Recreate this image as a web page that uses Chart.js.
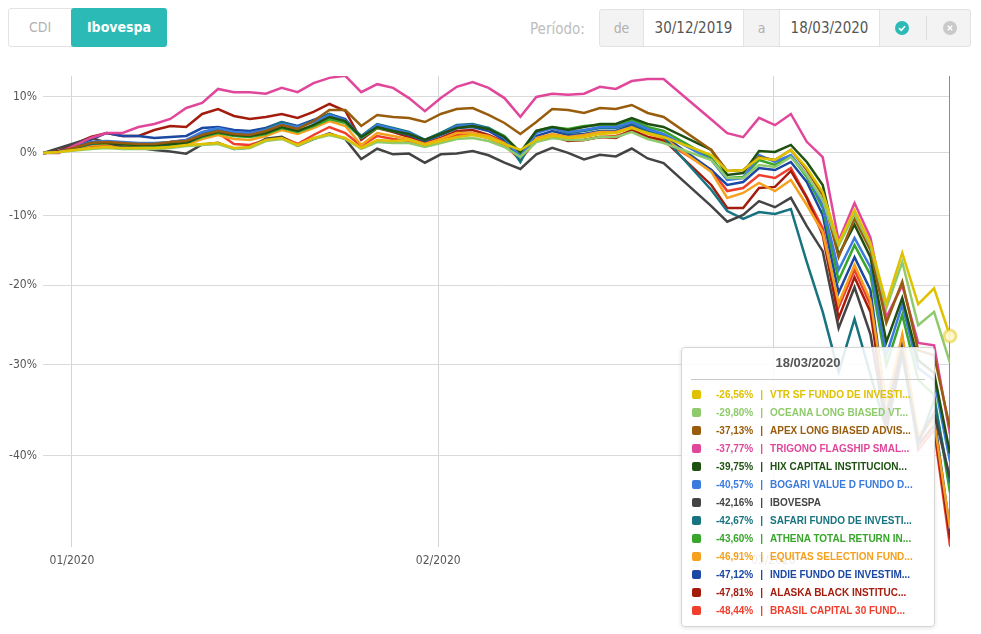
<!DOCTYPE html>
<html lang="pt-BR">
<head>
<meta charset="utf-8">
<title>Comparativo de fundos x Ibovespa</title>
<script src="https://cdn.jsdelivr.net/npm/chart.js@4.4.1/dist/chart.umd.min.js"></script>
<style>
  body { margin: 0; background: #fff; font-family: "DejaVu Sans Condensed", "DejaVu Sans", sans-serif; }
  #pagina { position: relative; width: 981px; height: 634px; overflow: hidden; }

  /* botoes CDI / Ibovespa */
  .grupo-botoes { position: absolute; left: 8px; top: 8px; width: 159px; height: 39px; border: 1px solid #e3e3e3; border-radius: 3px; box-sizing: border-box; }
  .btn-cdi { position: absolute; left: 0; top: 0; width: 62px; height: 37px; line-height: 37px; text-align: center; color: #b3b3b3; font-size: 14px; }
  .btn-ibov { position: absolute; left: 62px; top: -1px; width: 96px; height: 39px; line-height: 39px; text-align: center; background: #2bbab6; color: #fff; font-weight: bold; font-size: 14px; border-radius: 3px; }

  /* periodo */
  .rotulo-periodo { position: absolute; left: 530px; top: 20px; font-size: 15px; color: #bdbdbd; }
  .grupo-datas { position: absolute; left: 599px; top: 9px; width: 372px; height: 38px; background: #f3f3f3; border: 1px solid #e2e2e2; border-radius: 3px; box-sizing: border-box; }
  .grupo-datas .txt { position: absolute; top: 0; height: 36px; line-height: 36px; text-align: center; color: #b0b0b0; font-size: 14px; }
  .grupo-datas .campo { position: absolute; top: 0; height: 36px; line-height: 36px; text-align: center; background: #fff; border-left: 1px solid #e4e4e4; border-right: 1px solid #e4e4e4; color: #555; font-size: 15px; box-sizing: border-box; }
  .grupo-datas .icone { position: absolute; top: 11px; width: 14px; height: 14px; }
  .grupo-datas .sep { position: absolute; left: 326px; top: 6px; width: 1px; height: 24px; background: #dcdcdc; }

  #areaGrafico { position: absolute; left: 0; top: 60px; width: 981px; height: 520px; }

  /* caixa de detalhes do ultimo dia */
  #tooltip { position: absolute; left: 681px; top: 347px; width: 254px; height: 280px; box-sizing: border-box; background: rgba(255,255,255,0.88); border: 1px solid #d6d6d6; border-radius: 4px; box-shadow: 0 1px 4px rgba(0,0,0,0.12); font-family: "Liberation Sans", Arial, sans-serif; }
  #tooltip .titulo { margin-top: 7px; height: 16px; line-height: 16px; text-align: center; color: #555; font-size: 13px; font-weight: bold; }
  #tooltip .linha-sep { margin: 8px 9px 6px 9px; height: 1px; background: #c9c9c9; }
  #tooltip .linha { height: 18px; line-height: 18px; padding-left: 10px; font-size: 10px; font-weight: bold; white-space: nowrap; }
  #tooltip .quad { display: inline-block; width: 9px; height: 9px; border-radius: 2px; margin-right: 15px; vertical-align: -1px; }
  #tooltip .barra { margin: 0 7px; }
</style>
</head>
<body>
<div id="pagina">
  <div class="grupo-botoes">
    <div class="btn-cdi">CDI</div>
    <div class="btn-ibov">Ibovespa</div>
  </div>

  <div class="rotulo-periodo">Período:</div>
  <div class="grupo-datas">
    <div class="txt" style="left:0;width:43px">de</div>
    <div class="campo" style="left:43px;width:101px">30/12/2019</div>
    <div class="txt" style="left:144px;width:35px">a</div>
    <div class="campo" style="left:179px;width:101px">18/03/2020</div>
    <svg class="icone" style="left:295px" viewBox="0 0 14 14"><circle cx="7" cy="7" r="7" fill="#2bbab6"/><path d="M4 7.2 L6.2 9.3 L10 5.2" stroke="#fff" stroke-width="1.6" fill="none"/></svg>
    <div class="sep"></div>
    <svg class="icone" style="left:343px" viewBox="0 0 14 14"><circle cx="7" cy="7" r="7" fill="#c9c9c9"/><path d="M4.8 4.8 L9.2 9.2 M9.2 4.8 L4.8 9.2" stroke="#fff" stroke-width="1.5"/></svg>
  </div>

  <div id="areaGrafico"><canvas id="graficoFundos"></canvas></div>
  <div id="tooltip"></div>
</div>

<script>
// Datas (dias uteis + feriados que aparecem no eixo)
const datas = [
  '30/12/2019','31/12/2019','01/01/2020','02/01/2020','03/01/2020','06/01/2020','07/01/2020','08/01/2020','09/01/2020','10/01/2020',
  '13/01/2020','14/01/2020','15/01/2020','16/01/2020','17/01/2020','20/01/2020','21/01/2020','22/01/2020','23/01/2020','24/01/2020',
  '27/01/2020','28/01/2020','29/01/2020','30/01/2020','31/01/2020','03/02/2020','04/02/2020','05/02/2020','06/02/2020','07/02/2020',
  '10/02/2020','11/02/2020','12/02/2020','13/02/2020','14/02/2020','17/02/2020','18/02/2020','19/02/2020','20/02/2020','21/02/2020',
  '24/02/2020','25/02/2020','26/02/2020','27/02/2020','28/02/2020','02/03/2020','03/03/2020','04/03/2020','05/03/2020','06/03/2020',
  '09/03/2020','10/03/2020','11/03/2020','12/03/2020','13/03/2020','16/03/2020','17/03/2020','18/03/2020'
];

// Marcas de mes no eixo x (posicao em indices de dia) e rotulos
const ticksMes = [1.82, 24.84, 45.9];
const rotulosMes = ['01/2020', '02/2020', '03/2020'];
// Linhas de grade do eixo y (rentabilidade em %)
const ticksY = [10, 0, -10, -20, -30, -40];

const nomes = [
  'VTR SF FUNDO DE INVESTI...', 'OCEANA LONG BIASED VT...', 'APEX LONG BIASED ADVIS...', 'TRIGONO FLAGSHIP SMAL...',
  'HIX CAPITAL INSTITUCION...', 'BOGARI VALUE D FUNDO D...', 'IBOVESPA', 'SAFARI FUNDO DE INVESTI...',
  'ATHENA TOTAL RETURN IN...', 'EQUITAS SELECTION FUND...', 'INDIE FUNDO DE INVESTIM...', 'ALASKA BLACK INSTITUC...',
  'BRASIL CAPITAL 30 FUND...'
];
const cores = [
  '#e0c100', '#8fca6c', '#985c0c', '#e0479b',
  '#1e5111', '#3b7bdd', '#444444', '#17737f',
  '#37a62b', '#f5a11e', '#1b48a2', '#a41c0e',
  '#ef3e2c'
];

// Rentabilidade acumulada (%) por dia; null = sem cota no dia
const vtr = [0, 0.17, null, 0.85, 1.02, 0.85, 0.85, 0.85, 1.02, 1.36,
  1.53, 1.70, 0.85, 1.02, 2.22, 2.56, 1.36, 2.56, 3.25, 2.56,
  0.85, 2.22, 2.04, 2.22, 1.36, 2.04, 2.73, 3.08, 2.56, 1.53,
  0.51, 2.22, 2.91, 2.56, 2.73, 3.25, 3.43, 4.30, 3.43, 2.73,
  null, null, -0.34, -2.99, -2.83, -0.84, -1.17, 0.51, -2.50, -6.37,
  -14.1, -9.17, -14.1, -22.4, -15.5, -22.5, -20.4, -26.56];
const oceana = [0, 0.17, null, 0.68, 0.85, 0.68, 0.68, 0.68, 0.85, 1.19,
  1.36, 1.53, 0.68, 0.85, 2.04, 2.39, 1.19, 2.39, 3.08, 2.39,
  0.68, 1.87, 1.70, 1.70, 1.02, 1.70, 2.39, 2.56, 2.04, 1.02,
  -0.67, 1.87, 2.56, 2.22, 2.22, 2.73, 2.73, 3.60, 2.39, 1.70,
  null, null, -1.17, -4.13, -4.13, -2.00, -2.33, -0.67, -3.64, -7.62,
  -14.5, -9.78, -14.5, -23.0, -16.8, -25.2, -23.5, -29.80];
const apex = [0, 0.17, null, 1.70, 1.87, 1.70, 1.53, 1.53, 1.87, 2.04,
  3.08, 3.78, 3.25, 3.08, 3.78, 4.84, 4.13, 5.54, 7.51, 7.51,
  4.66, 6.62, 6.26, 6.08, 5.36, 6.80, 7.69, 7.88, 6.62, 5.19,
  3.25, 5.36, 7.69, 7.51, 6.98, 7.88, 7.69, 8.43, 6.98, 6.26,
  null, null, 0.51, -2.99, -2.83, -0.67, -1.17, 0.51, -2.83, -6.84,
  -16.1, -10.5, -15.1, -24.9, -19.5, -28.3, -28.9, -37.13];
const trigono = [0, 0, null, 2.56, 3.43, 3.43, 4.48, 5.0, 5.9, 7.88,
  8.8, 11.4, 10.8, 10.8, 10.5, 11.6, 10.8, 12.5, 13.5, 13.9,
  10.8, 12.3, 11.6, 9.7, 7.3, 9.7, 11.8, 12.7, 11.6, 9.7,
  6.3, 9.9, 10.5, 10.3, 10.5, 11.8, 11.4, 12.9, 13.3, 13.3,
  null, null, 5.8, 3.4, 2.7, 6.1, 4.8, 6.8, 1.9, -0.7,
  -13.8, -8.1, -13.3, -24.2, -20.0, -27.4, -27.7, -37.77];
const hix = [0, 0.17, null, 1.70, 1.70, 1.53, 1.36, 1.36, 1.53, 1.70,
  2.91, 3.60, 3.08, 2.91, 3.43, 4.48, 3.78, 4.84, 6.26, 5.54,
  2.73, 4.48, 3.78, 3.25, 2.22, 3.25, 4.30, 4.66, 4.13, 2.73,
  0.17, 3.78, 4.48, 3.95, 4.48, 5.01, 5.01, 6.08, 5.01, 4.48,
  null, null, 0.51, -3.64, -3.32, 0.34, 0.17, 1.36, -1.51, -5.25,
  -15.8, -11.4, -16.1, -27.3, -21.7, -29.5, -31.0, -39.75];
const bogari = [0, 0.17, null, 1.87, 2.04, 1.87, 1.70, 1.70, 1.87, 2.22,
  3.60, 4.30, 3.60, 3.43, 3.95, 5.01, 4.48, 5.36, 6.62, 5.72,
  2.73, 4.84, 4.13, 3.43, 2.22, 3.25, 4.66, 4.84, 4.13, 2.56,
  -0.67, 3.43, 4.30, 3.60, 3.95, 4.48, 4.48, 5.36, 4.13, 3.25,
  null, null, -1.17, -4.45, -4.13, -0.34, -1.51, -0.34, -3.64, -8.40,
  -17.9, -13.35, -17.5, -28.9, -22.6, -30.4, -31.8, -40.57];
const ibovespa = [0, null, null, 2.53, 1.78, 1.07, 0.88, 0.52, 0.26, -0.12,
  1.45, 1.72, 0.66, 0.91, 2.45, 2.78, 1.19, 2.37, 3.36, 2.36,
  -1.01, 0.72, -0.23, -0.10, -1.63, -0.23, -0.08, 0.33, -0.39, -1.62,
  -2.66, -0.24, 0.89, 0.01, -1.09, -0.29, -0.58, 0.75, -0.92, -1.70,
  null, null, -8.58, -10.95, -9.92, -7.80, -8.74, -7.28, -11.60, -15.26,
  -25.58, -20.26, -26.35, -37.24, -28.51, -38.46, -35.48, -42.16];
const safari = [0, 0.17, null, 1.53, 1.87, 1.70, 1.36, 1.36, 1.53, 1.87,
  3.25, 4.13, 3.25, 3.25, 4.13, 5.36, 4.48, 5.54, 6.80, 5.54,
  2.91, 5.01, 4.30, 3.60, 2.22, 3.43, 4.84, 5.01, 4.30, 2.56,
  -1.51, 3.60, 4.30, 3.43, 3.78, 4.30, 4.30, 5.19, 3.78, 2.73,
  null, null, -6.04, -9.32, -10.53, -9.47, -9.78, -9.01, -16.8, -23.5,
  -30.9, -24.4, -31.2, -37.3, -28.9, -38.9, -34.1, -42.67];
const athena = [0, 0.17, null, 1.53, 1.70, 1.36, 1.19, 1.19, 1.36, 1.70,
  2.73, 3.43, 2.91, 2.73, 3.25, 4.30, 3.60, 4.66, 5.90, 5.19,
  2.56, 4.30, 3.78, 3.25, 2.22, 3.43, 4.48, 4.66, 4.30, 2.91,
  0, 3.78, 4.48, 4.13, 4.66, 4.84, 4.84, 5.72, 4.48, 3.78,
  null, null, -0.84, -4.13, -3.97, -1.17, -2.00, -0.50, -3.97, -8.85,
  -19.3, -14.4, -18.6, -30.1, -23.9, -31.8, -33.5, -43.60];
const equitas = [0, 0.17, null, 1.36, 1.53, 1.19, 1.02, 1.02, 1.19, 1.36,
  2.39, 3.08, 2.39, 2.22, 2.91, 3.95, 3.25, 4.30, 5.54, 4.66,
  1.36, 3.43, 2.91, 2.39, 1.53, 2.39, 3.43, 3.43, 2.91, 1.70,
  -0.84, 2.56, 3.25, 2.73, 3.08, 3.60, 3.60, 4.48, 3.25, 2.56,
  null, null, -3.15, -7.30, -6.52, -4.93, -6.21, -4.45, -8.40, -12.5,
  -22.4, -17.2, -22.0, -34.6, -26.4, -37.8, -36.3, -46.91];
const indie = [0, 0.17, null, 2.22, 3.43, 2.91, 2.91, 2.56, 2.73, 2.91,
  4.30, 4.48, 3.95, 3.78, 4.30, 5.36, 4.66, 5.72, 6.80, 5.90,
  2.56, 4.48, 3.78, 3.08, 2.04, 3.08, 4.30, 4.48, 3.78, 2.22,
  -0.17, 2.91, 3.78, 3.08, 3.25, 3.78, 3.78, 4.84, 3.60, 2.91,
  null, null, -2.83, -5.25, -4.77, -2.50, -2.83, -1.51, -4.77, -9.93,
  -21.0, -16.1, -20.6, -35.2, -26.7, -38.4, -35.7, -47.12];
const alaska = [0, 0.34, null, 2.73, 3.43, 2.91, 2.91, 3.95, 4.66, 4.48,
  6.80, 7.69, 6.44, 5.90, 6.26, 6.80, 6.08, 7.16, 8.61, 7.34,
  2.22, 4.30, 3.60, 2.73, 1.70, 2.56, 3.78, 3.95, 3.08, 1.87,
  -0.50, 2.22, 2.91, 2.04, 2.22, 2.73, 2.56, 3.95, 2.73, 2.22,
  null, null, -5.25, -8.85, -8.85, -5.73, -5.56, -2.99, -7.30, -12.9,
  -24.3, -18.9, -23.5, -36.3, -27.7, -38.9, -36.8, -47.81];
const brasilCapital = [0, 0.17, null, 1.19, 1.19, 1.02, 1.02, 1.19, 1.87, 2.22,
  2.73, 3.43, 1.53, 1.36, 2.22, 2.73, 1.53, 3.08, 4.48, 3.43,
  1.19, 2.91, 2.39, 2.04, 1.19, 2.22, 3.08, 3.25, 2.56, 1.36,
  -1.17, 2.22, 2.73, 2.22, 2.22, 2.73, 2.91, 3.78, 2.73, 2.04,
  null, null, -2.83, -6.21, -5.73, -3.64, -4.13, -2.50, -7.15, -11.9,
  -22.9, -17.9, -22.6, -35.7, -27.0, -39.4, -37.3, -48.44];

const series = [vtr, oceana, apex, trigono, hix, bogari, ibovespa, safari, athena, equitas, indie, alaska, brasilCapital];
const ultimo = datas.length - 1;
const fonteEixo = { family: '"DejaVu Sans Condensed", "DejaVu Sans", sans-serif', size: 12 };

// Eixo y em escala log de (1 + r), como no grafico original
const datasets = series.map((valores, k) => ({
  label: nomes[k],
  data: valores.map((v, i) => ({ x: i, y: v === null ? null : 1 + v / 100, pct: v })),
  borderColor: cores[k],
  backgroundColor: cores[k],
  borderWidth: 2.5,
  pointRadius: 0,
  pointHoverRadius: k === 0 ? 6 : 0,
  pointHoverBorderWidth: 3,
  pointHoverBorderColor: 'rgba(224,193,0,0.45)',
  pointHoverBackgroundColor: 'rgba(255,247,205,0.9)',
  tension: 0,
  spanGaps: true,
  clip: k === 0 ? false : undefined
}));

// Linha vertical no dia selecionado
const linhaVertical = {
  id: 'linhaVertical',
  beforeDatasetsDraw(chart) {
    const { ctx, chartArea, scales } = chart;
    const x = Math.round(scales.x.getPixelForValue(ultimo)) - 0.5;
    ctx.save();
    ctx.strokeStyle = '#8c8c8c';
    ctx.lineWidth = 1;
    ctx.beginPath();
    ctx.moveTo(x, chartArea.top);
    ctx.lineTo(x, chartArea.bottom);
    ctx.stroke();
    ctx.restore();
  }
};

const ctx = document.getElementById('graficoFundos').getContext('2d');
const grafico = new Chart(ctx, {
  type: 'line',
  data: { datasets },
  plugins: [linhaVertical],
  options: {
    responsive: true,
    maintainAspectRatio: false,
    animation: false,
    events: [],
    layout: { padding: { top: 16, right: 31, left: 0, bottom: 0 } },
    plugins: { legend: { display: false }, tooltip: { enabled: false } },
    scales: {
      x: {
        type: 'linear',
        min: 0,
        max: ultimo,
        bounds: 'data',
        afterBuildTicks: s => { s.ticks = ticksMes.map(v => ({ value: v })); },
        afterFit: s => { s.height = 33; },
        ticks: { callback: (v, i) => rotulosMes[i], color: '#555', font: fonteEixo, padding: 7, autoSkip: false, maxRotation: 0 },
        grid: { color: '#d5d5d5', drawTicks: false },
        border: { display: false }
      },
      y: {
        type: 'logarithmic',
        min: 0.5146,
        max: 1.1386,
        bounds: 'data',
        afterBuildTicks: s => { s.ticks = ticksY.map(p => ({ value: 1 + p / 100 })); },
        afterFit: s => { s.width = 43; },
        ticks: { callback: v => Math.round((v - 1) * 100) + '%', color: '#555', font: fonteEixo, padding: 6 },
        grid: { color: '#dadada', drawTicks: false },
        border: { display: false }
      }
    }
  }
});

// Destaca o ultimo dia (marcador do primeiro fundo)
grafico.setActiveElements(series.map((s, k) => ({ datasetIndex: k, index: ultimo })));
grafico.update();

// Monta a caixa com os valores do ultimo dia
function montarTooltip() {
  const itens = grafico.data.datasets.map((ds, k) => ({ nome: ds.label, cor: cores[k], pct: ds.data[ultimo].pct }));
  itens.sort((a, b) => b.pct - a.pct);
  let html = '<div class="titulo">' + datas[ultimo] + '</div><div class="linha-sep"></div>';
  itens.forEach(it => {
    const valor = it.pct.toFixed(2).replace('.', ',') + '%';
    html += '<div class="linha" style="color:' + it.cor + '"><span class="quad" style="background:' + it.cor + '"></span>' +
      '<span>' + valor + '</span><span class="barra">|</span><span>' + it.nome + '</span></div>';
  });
  document.getElementById('tooltip').innerHTML = html;
}
montarTooltip();
</script>
</body>
</html>
